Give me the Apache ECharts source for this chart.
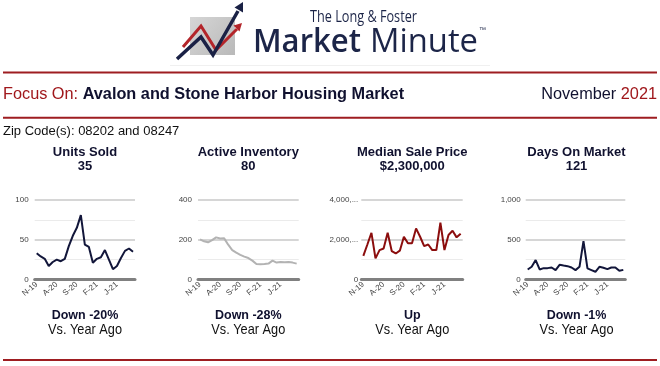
<!DOCTYPE html>
<html>
<head>
<meta charset="utf-8">
<script src="https://cdn.jsdelivr.net/npm/echarts@6/dist/echarts.min.js"></script>
<style>html,body{margin:0;padding:0;background:#fff;}#c{width:660px;height:366px;}</style>
</head>
<body>
<div id="c"></div>
<script>
// ---- data ----
const categories = ['N-19','D-19','J-20','F-20','M-20','A-20','M-20','J-20','J-20','A-20','S-20','O-20','N-20','D-20','J-21','F-21','M-21','A-21','M-21','J-21','J-21','A-21','S-21','O-21','N-21'];
const unitsSold = [33,29,26,17,22,25,23,26,42,55,65,81,44,41,21,26,28,37,25,13,17,27,36,39,35];
const activeInventory = [202,192,187,198,212,206,207,175,148,135,124,115,108,95,78,77,78,80,95,85,88,87,88,85,80];
const medianPrice = [1190000,1760000,2350000,1060000,1480000,1560000,2350000,1430000,1310000,1450000,2150000,1820000,1820000,2570000,2150000,1680000,1760000,1480000,1480000,2860000,1480000,2240000,2450000,2120000,2300000];
const daysOnMarket = [126,160,244,126,143,143,151,118,185,176,168,151,118,160,483,139,118,97,160,147,130,151,151,109,121];
const chartTitles = ['Units Sold','Active Inventory','Median Sale Price','Days On Market'];
const chartValues = ['35','80','$2,300,000','121'];
const changeTexts = ['Down -20%','Down -28%','Up','Down -1%'];
const yMax = [100,400,4000000,1000];
const yInterval = [50,200,2000000,500];

// ---- layout / style ----
const seriesData = [unitsSold, activeInventory, medianPrice, daysOnMarket];
const lineColors = ['#12163a','#b3b3b3','#8b0d0d','#12163a'];
const grids = [
  {left:34.7, top:200, width:100.3, height:79.5},
  {left:198, top:200, width:100.7, height:79.5},
  {left:361.3, top:200, width:101.4, height:79.5},
  {left:525.7, top:200, width:99.6, height:79.5}
];
const centers = [85, 248.3, 412.3, 576.5];
const labelMargins = [6,6,3,5];
const AR = "'Liberation Sans', Arial, sans-serif";
const NAVY = '#10112f';
const RED = '#a0181c';

const ctx = document.createElement('canvas').getContext('2d');
function measure(t, font){ ctx.font = font; return ctx.measureText(t).width; }

function txt(x, y, text, font, fill, align, scaleX){
  return {type:'text', x:x, y:y, scaleX: scaleX || 1, silent:true,
    style:{text:text, font:font, fill:fill, align:align||'left', verticalAlign:'middle',
           textAlign:align||'left', textVerticalAlign:'middle'}};
}
function fitTxt(x, y, text, font, fill, width){
  const w = measure(text, font);
  return txt(x, y, text, font, fill, 'left', width / w);
}
function line(x1,y1,x2,y2,color,w){
  return {type:'line', silent:true, shape:{x1,y1,x2,y2}, style:{stroke:color, lineWidth:w}};
}

const graphics = [];
// logo
graphics.push({type:'rect', silent:true, shape:{x:190,y:17,width:45,height:38},
  style:{fill:new echarts.graphic.LinearGradient(0,0,1,1,[{offset:0,color:'#d6d6d6'},{offset:1,color:'#b9b9b9'}])}});
graphics.push({type:'polyline', silent:true, shape:{points:[[183,47],[201,26],[216,50],[237,29]]},
  style:{stroke:'#b3252a', lineWidth:3, fill:null, lineJoin:'miter'}});
graphics.push({type:'polygon', silent:true, shape:{points:[[242,23],[239.5,31.5],[233.5,25.5]]}, style:{fill:'#b3252a'}});
graphics.push({type:'polyline', silent:true, shape:{points:[[177,59],[201,37],[213,55],[238,11]]},
  style:{stroke:'#1a2145', lineWidth:3.5, fill:null, lineJoin:'miter'}});
graphics.push({type:'polygon', silent:true, shape:{points:[[243,2],[243,12.5],[234.5,7.5]]}, style:{fill:'#1a2145'}});
graphics.push(fitTxt(310, 17.5, 'The Long & Foster', "400 16px 'Open Sans', sans-serif", '#1c2548', 107));
graphics.push(fitTxt(253, 42.5, 'Market', "600 32px 'Open Sans', sans-serif", '#1c2548', 108));
graphics.push(fitTxt(370, 42.5, 'Minute', "400 32px 'Open Sans', sans-serif", '#1c2548', 108));
graphics.push(txt(479, 30, '™', "7px " + AR, '#1c2548', 'left'));
graphics.push(line(170, 65.5, 490, 65.5, '#f0f0f0', 1));

// header lines and texts
graphics.push(line(3, 72.5, 657, 72.5, '#9e1d21', 2));
graphics.push(line(3, 117.7, 657, 117.7, '#9e1d21', 2));
graphics.push(line(3, 360, 657, 360, '#9e1d21', 2));
graphics.push({type:'text', x:3, y:95, silent:true, style:{
  text:'{a|Focus On: }{b|Avalon and Stone Harbor Housing Market}',
  font:'16.3px ' + AR, verticalAlign:'middle', textVerticalAlign:'middle',
  rich:{a:{fill:RED, font:'16.3px ' + AR}, b:{fill:NAVY, font:'bold 16.3px ' + AR}}}});
graphics.push({type:'text', x:657, y:95, silent:true, style:{
  text:'{a|November }{b|2021}', font:'16.3px ' + AR, align:'right', textAlign:'right',
  verticalAlign:'middle', textVerticalAlign:'middle',
  rich:{a:{fill:NAVY, font:'16.3px ' + AR}, b:{fill:RED, font:'16.3px ' + AR}}}});
graphics.push(txt(3, 131, 'Zip Code(s): 08202 and 08247', '13px ' + AR, '#111', 'left'));

for (let i = 0; i < 4; i++) {
  graphics.push(txt(centers[i], 152, chartTitles[i], 'bold 13px ' + AR, NAVY, 'center'));
  graphics.push(txt(centers[i], 166.7, chartValues[i], 'bold 13px ' + AR, NAVY, 'center'));
  graphics.push(txt(centers[i], 315.5, changeTexts[i], 'bold 12.5px ' + AR, NAVY, 'center'));
  graphics.push(txt(centers[i], 329.5, 'Vs. Year Ago', '15px ' + AR, '#111', 'center', 0.85));
}

function yFmt(v){
  const s = Number(v).toLocaleString('en-US');
  return s.length > 6 ? s.slice(0,6) + '...' : s;
}

const option = {
  animation:false,
  backgroundColor:'#fff',
  grid: grids,
  xAxis: grids.map((g,i)=>({
    type:'category', gridIndex:i, data:categories, boundaryGap:true,
    axisTick:{show:false},
    axisLine:{lineStyle:{color:'#808080', width:3}},
    axisLabel:{interval:4, rotate:40, fontSize:8, color:'#444', margin:4, fontFamily:AR},
    splitLine:{show:false}
  })),
  yAxis: grids.map((g,i)=>({
    type:'value', gridIndex:i, min:0, max:yMax[i], interval:yInterval[i],
    axisLine:{show:false}, axisTick:{show:false},
    axisLabel:{fontSize:8, color:'#444', margin:labelMargins[i], fontFamily:AR, formatter:yFmt},
    splitLine:{lineStyle:{color:'#d6d6d6', width:2}},
    minorTick:{show:false, splitNumber:2},
    minorSplitLine:{show:true, lineStyle:{color:'#ebebeb', width:1}}
  })),
  series: seriesData.map((d,i)=>({
    type:'line', xAxisIndex:i, yAxisIndex:i, data:d, showSymbol:false, symbol:'none',
    lineStyle:{color:lineColors[i], width:2}, itemStyle:{color:lineColors[i]}
  })),
  graphic: graphics
};

const chart = echarts.init(document.getElementById('c'), null, {renderer:'canvas'});
chart.setOption(option);
</script>
</body>
</html>
